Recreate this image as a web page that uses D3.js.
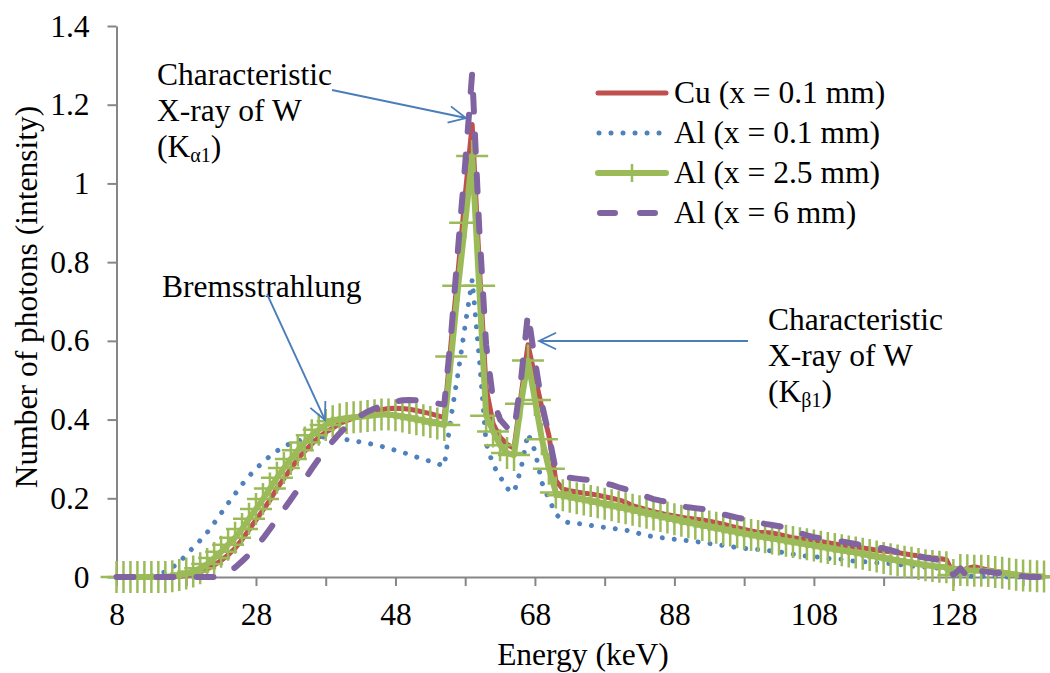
<!DOCTYPE html>
<html><head><meta charset="utf-8">
<script src="https://cdn.jsdelivr.net/npm/d3@7"></script>
<style>
body{margin:0;background:#fff}
svg{display:block}
text{font-family:"Liberation Serif","Times New Roman",serif;fill:#000}
</style>
</head><body>
<svg id="c" width="1050" height="673"></svg>
<script>
// ---------- data ----------
const energies = [
 8,9,10,11,12,13,14,15,16,17,
 18,19,20,21,22,23,24,25,26,27,
 28,29,30,31,32,33,34,35,36,37,
 38,39,40,41,42,43,44,45,46,47,
 48,49,50,51,52,53,54,55,56,57,
 58,59,60,61,62,63,64,65,66,67,
 68,69,70,71,72,73,74,75,76,77,
 78,79,80,81,82,83,84,85,86,87,
 88,89,90,91,92,93,94,95,96,97,
 98,99,100,101,102,103,104,105,106,107,
 108,109,110,111,112,113,114,115,116,117,
 118,119,120,121,122,123,124,125,126,127,
 128,129,130,131,132,133,134,135,136,137,
 138,139,140,141];

const cu01 = [
 0,0,0,0,0,0,0,0,0,0.002,
 0.004,0.008,0.013,0.02,0.03,0.042,0.056,0.073,0.095,0.12,
 0.145,0.17,0.195,0.225,0.25,0.275,0.3,0.32,0.338,0.355,
 0.368,0.378,0.39,0.397,0.404,0.41,0.416,0.421,0.425,0.428,
 0.429,0.428,0.426,0.423,0.419,0.415,0.41,0.405,0.6,0.78,
 0.97,1.15,0.8,0.48,0.39,0.355,0.337,0.327,0.46,0.59,
 0.51,0.43,0.36,0.245,0.223,0.219,0.216,0.213,0.211,0.208,
 0.204,0.2,0.196,0.19,0.181,0.176,0.171,0.166,0.162,0.158,
 0.155,0.152,0.149,0.147,0.145,0.142,0.138,0.134,0.129,0.125,
 0.121,0.117,0.114,0.113,0.112,0.108,0.104,0.1,0.097,0.094,
 0.092,0.09,0.087,0.084,0.081,0.079,0.077,0.074,0.071,0.068,
 0.066,0.064,0.062,0.059,0.056,0.054,0.051,0.049,0.047,0.044,
 0.008,0.015,0.022,0.026,0.022,0.018,0.015,0.012,0.009,0.006,
 0.004,0.002,0.001,0];

const al01 = [
 0,0,0,0,0,0.002,0.006,0.013,0.024,0.038,
 0.056,0.075,0.093,0.113,0.137,0.162,0.187,0.211,0.235,0.256,
 0.275,0.292,0.307,0.32,0.331,0.34,0.346,0.35,0.353,0.355,
 0.356,0.355,0.352,0.349,0.346,0.343,0.34,0.336,0.332,0.327,
 0.322,0.317,0.311,0.305,0.299,0.294,0.288,0.282,0.41,0.52,
 0.64,0.755,0.56,0.34,0.285,0.255,0.225,0.215,0.275,0.365,
 0.32,0.24,0.198,0.16,0.143,0.137,0.136,0.134,0.131,0.128,
 0.126,0.124,0.121,0.119,0.116,0.11,0.106,0.102,0.1,0.098,
 0.096,0.094,0.092,0.09,0.088,0.085,0.083,0.08,0.077,0.075,
 0.073,0.071,0.07,0.068,0.066,0.064,0.061,0.058,0.055,0.053,
 0.052,0.05,0.047,0.046,0.045,0.042,0.04,0.039,0.038,0.036,
 0.035,0.034,0.032,0.03,0.028,0.026,0.025,0.024,0.022,0.02,
 0.01,0.004,0.002,0.002,0.002,0.001,0.001,0.001,0,0,
 0,0,0,0];

const al25 = [
 0,0,0,0,0,0,0,0,0.002,0.005,
 0.009,0.014,0.022,0.033,0.048,0.064,0.082,0.1,0.122,0.148,
 0.173,0.198,0.225,0.252,0.277,0.3,0.322,0.342,0.36,0.374,
 0.386,0.396,0.401,0.404,0.406,0.407,0.409,0.411,0.413,0.413,
 0.411,0.408,0.404,0.401,0.398,0.394,0.39,0.386,0.56,0.74,
 0.9,1.07,0.74,0.41,0.37,0.335,0.315,0.31,0.44,0.55,
 0.45,0.35,0.275,0.215,0.208,0.204,0.2,0.197,0.193,0.19,
 0.186,0.182,0.178,0.175,0.171,0.167,0.163,0.159,0.155,0.151,
 0.147,0.143,0.139,0.135,0.132,0.128,0.125,0.121,0.118,0.114,
 0.111,0.107,0.104,0.101,0.098,0.095,0.092,0.089,0.086,0.083,
 0.08,0.077,0.074,0.071,0.068,0.065,0.062,0.059,0.056,0.052,
 0.048,0.045,0.042,0.039,0.036,0.033,0.03,0.028,0.026,0.025,
 0.005,0.018,0.017,0.016,0.016,0.015,0.013,0.011,0.008,0.006,
 0.004,0.003,0.002,0.001];

const al6 = [
 0,0,0,0,0,0,0,0,0,0,
 0,0,0,0,0,0.004,0.012,0.024,0.04,0.057,
 0.076,0.098,0.122,0.147,0.172,0.197,0.222,0.248,0.275,0.3,
 0.323,0.345,0.365,0.383,0.398,0.41,0.42,0.428,0.435,0.441,
 0.446,0.449,0.45,0.449,0.447,0.444,0.441,0.438,0.62,0.84,
 1.05,1.28,0.89,0.59,0.45,0.4,0.38,0.37,0.5,0.67,
 0.55,0.44,0.36,0.27,0.26,0.252,0.25,0.248,0.246,0.242,
 0.238,0.234,0.228,0.223,0.218,0.212,0.204,0.198,0.194,0.191,
 0.186,0.18,0.177,0.175,0.173,0.17,0.165,0.159,0.155,0.151,
 0.147,0.143,0.139,0.135,0.132,0.129,0.126,0.118,0.112,0.106,
 0.101,0.098,0.095,0.092,0.09,0.087,0.084,0.081,0.078,0.075,
 0.073,0.068,0.063,0.06,0.056,0.052,0.049,0.046,0.043,0.035,
 0.005,0.022,0.001,0.02,0.015,0.013,0.011,0.01,0.008,0.005,
 0.002,0,0,0];

const seriesNames = ["Cu (x = 0.1 mm)", "Al (x = 0.1 mm)", "Al (x = 2.5 mm)", "Al (x = 6 mm)"];
const xTicks = [8,18,28,38,48,58,68,78,88,98,108,118,128,138];
const xTickLabels = [8,28,48,68,88,108,128];
const yTicks = [0,0.2,0.4,0.6,0.8,1,1.2,1.4];
const xTitle = "Energy (keV)";
const yTitle = "Number of photons (intensity)";

// ---------- drawing ----------
const FS = 31.5;
const svg = d3.select("#c");
const x = d3.scaleLinear().domain([8, 142]).range([116.5, 1051]);
const y = d3.scaleLinear().domain([0, 1.4]).range([577, 26]);
const axisColor = "#868686";

const gx = svg.append("g").attr("transform", "translate(0,577)")
  .call(d3.axisBottom(x).tickValues(xTicks).tickSize(9).tickSizeOuter(0).tickPadding(17)
    .tickFormat(d => xTickLabels.includes(d) ? String(d) : ""));
const gy = svg.append("g").attr("transform", "translate(116.5,0)")
  .call(d3.axisLeft(y).tickValues(yTicks).tickSize(9).tickSizeOuter(0).tickPadding(18)
    .tickFormat(d => String(+d.toFixed(1))));
[gx, gy].forEach(g => {
  g.select(".domain").attr("stroke", axisColor).attr("stroke-width", 2);
  g.selectAll(".tick line").attr("stroke", axisColor).attr("stroke-width", 2);
  g.selectAll(".tick text").attr("font-size", FS).attr("fill", "#000")
    .attr("font-family", "Liberation Serif, Times New Roman, serif");
});

svg.append("text").attr("x", 583).attr("y", 665).attr("text-anchor", "middle")
  .attr("font-size", FS).text(xTitle);
svg.append("text").attr("transform", "translate(37,297) rotate(-90)").attr("text-anchor", "middle")
  .attr("font-size", FS).text(yTitle);

const mk = vals => energies.map((e, i) => ({e, v: vals[i]}));
const line = d3.line().x(d => x(d.e)).y(d => y(d.v));

const COL = {red:"#C0504D", blue:"#4F81BD", green:"#9BBB59", purple:"#8064A2"};

// Cu
svg.append("path").datum(mk(cu01)).attr("d", line).attr("fill", "none")
  .attr("stroke", COL.red).attr("stroke-width", 5).attr("stroke-linejoin", "round");
// Al 0.1 (dotted)
svg.append("path").datum(mk(al01)).attr("d", line).attr("fill", "none")
  .attr("stroke", COL.blue).attr("stroke-width", 5).attr("stroke-linecap", "round")
  .attr("stroke-dasharray", "0.01,12");
// Al 2.5 with plus markers
svg.append("path").datum(mk(al25)).attr("d", line).attr("fill", "none")
  .attr("stroke", COL.green).attr("stroke-width", 6).attr("stroke-linejoin", "round");
svg.append("g").selectAll("path").data(mk(al25)).join("path")
  .attr("d", d => { const px = x(d.e), py = y(d.v);
     return `M${px-16},${py}H${px+16}M${px},${py-16}V${py+16}`; })
  .attr("stroke", COL.green).attr("stroke-width", 2.5).attr("fill", "none");
// Al 6 (dashed)
svg.append("path").datum(mk(al6)).attr("d", line).attr("fill", "none")
  .attr("stroke", COL.purple).attr("stroke-width", 6).attr("stroke-linecap", "round")
  .attr("stroke-linejoin", "round").attr("stroke-dasharray", "17,23");

// ---------- legend ----------
const lg = svg.append("g");
const rowsY = [93, 133, 173, 213];
lg.append("line").attr("x1", 598).attr("x2", 666).attr("y1", rowsY[0]).attr("y2", rowsY[0])
  .attr("stroke", COL.red).attr("stroke-width", 5).attr("stroke-linecap", "round");
lg.append("line").attr("x1", 599).attr("x2", 667).attr("y1", rowsY[1]).attr("y2", rowsY[1])
  .attr("stroke", COL.blue).attr("stroke-width", 5).attr("stroke-linecap", "round")
  .attr("stroke-dasharray", "0.01,12");
lg.append("line").attr("x1", 598).attr("x2", 666).attr("y1", rowsY[2]).attr("y2", rowsY[2])
  .attr("stroke", COL.green).attr("stroke-width", 6).attr("stroke-linecap", "round");
lg.append("line").attr("x1", 632).attr("x2", 632).attr("y1", rowsY[2]-9).attr("y2", rowsY[2]+9)
  .attr("stroke", COL.green).attr("stroke-width", 2.5);
lg.append("line").attr("x1", 600).attr("x2", 660).attr("y1", rowsY[3]).attr("y2", rowsY[3])
  .attr("stroke", COL.purple).attr("stroke-width", 6).attr("stroke-linecap", "round")
  .attr("stroke-dasharray", "15,25");
seriesNames.forEach((n, i) => {
  lg.append("text").attr("x", 674).attr("y", rowsY[i] + 10).attr("font-size", FS).text(n);
});

// ---------- annotations ----------
const AC = "#4A7EBB";
function arrow(x1, y1, x2, y2) {
  svg.append("line").attr("x1", x1).attr("y1", y1).attr("x2", x2).attr("y2", y2)
    .attr("stroke", AC).attr("stroke-width", 1.8);
  const a = Math.atan2(y2 - y1, x2 - x1), L = 19, w = 0.45;
  const p1 = [x2 - L*Math.cos(a - w), y2 - L*Math.sin(a - w)];
  const p2 = [x2 - L*Math.cos(a + w), y2 - L*Math.sin(a + w)];
  svg.append("path").attr("d", `M${p1[0]},${p1[1]}L${x2},${y2}L${p2[0]},${p2[1]}`)
    .attr("fill", "none").attr("stroke", AC).attr("stroke-width", 1.8);
}
function charLabel(x0, y0, greek) {
  const t = svg.append("text").attr("font-size", FS);
  t.append("tspan").attr("x", x0).attr("y", y0).text("Characteristic");
  t.append("tspan").attr("x", x0).attr("y", y0 + 36).text("X-ray of W");
  const t3 = svg.append("text").attr("font-size", FS).attr("x", x0).attr("y", y0 + 72);
  t3.append("tspan").text("(K");
  t3.append("tspan").attr("font-size", 20).attr("dy", 5).text(greek + "1");
  t3.append("tspan").attr("dy", -5).text(")");
}
charLabel(157, 85, "α");
arrow(332, 90, 466, 118);
charLabel(768, 330, "β");
arrow(748, 341, 539, 341);
svg.append("text").attr("x", 162).attr("y", 297).attr("font-size", FS).text("Bremsstrahlung");
arrow(267, 294, 325, 420);
</script>
</body></html>
